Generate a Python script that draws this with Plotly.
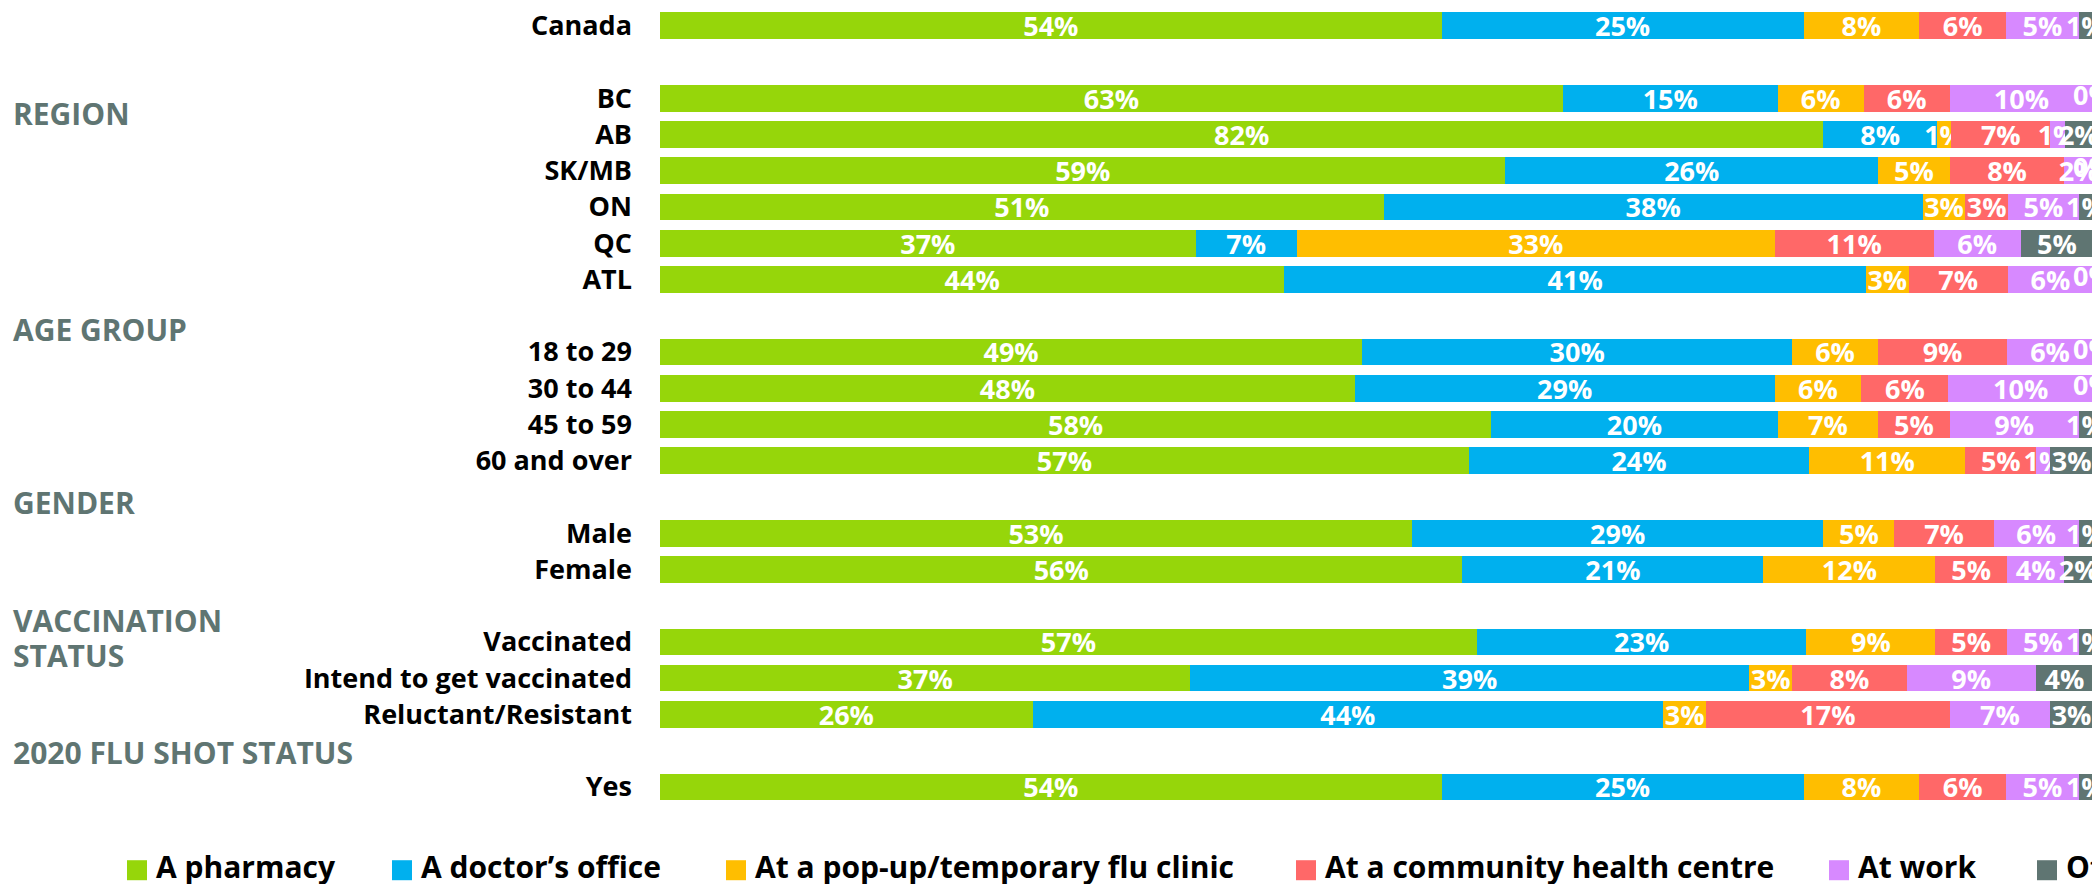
import plotly.graph_objects as go

# ---------------- data ----------------
categories = ["Canada", "BC", "AB", "SK/MB", "ON", "QC", "ATL",
              "18 to 29", "30 to 44", "45 to 59", "60 and over",
              "Male", "Female",
              "Vaccinated", "Intend to get vaccinated", "Reluctant/Resistant",
              "Yes"]
groups = ["", "REGION", "REGION", "REGION", "REGION", "REGION", "REGION",
          "AGE GROUP", "AGE GROUP", "AGE GROUP", "AGE GROUP",
          "GENDER", "GENDER",
          "VACCINATION STATUS", "VACCINATION STATUS", "VACCINATION STATUS",
          "2020 FLU SHOT STATUS"]

series_names = ["A pharmacy", "A doctor\u2019s office", "At a pop-up/temporary flu clinic",
                "At a community health centre", "At work", "Other"]
pharmacy = [54, 63, 82, 59, 51, 37, 44, 49, 48, 58, 57, 53, 56, 57, 37, 26, 54]
doctor = [25, 15, 8, 26, 38, 7, 41, 30, 29, 20, 24, 29, 21, 23, 39, 44, 25]
popup = [8, 6, 1, 5, 3, 33, 3, 6, 6, 7, 11, 5, 12, 9, 3, 3, 8]
community = [6, 6, 7, 8, 3, 11, 7, 9, 6, 5, 5, 7, 5, 5, 8, 17, 6]
work = [5, 10, 1, 2, 5, 6, 6, 6, 10, 9, 1, 6, 4, 5, 9, 7, 5]
other = [1, 0, 2, 0, 1, 5, 0, 0, 0, 1, 3, 1, 2, 1, 4, 3, 1]

series_values = [pharmacy, doctor, popup, community, work, other]
colors = ["#96D60A", "#00B0EE", "#FFBE00", "#FF6868", "#D789FF", "#5F7572"]

# ---------------- layout geometry ----------------
OFF = 8                      # page body margin
W, H = 2100, 884
ML, MR = 652, 15
PB = 796.8                   # plot bottom in figure px (top = 0)
MT, MB = 0, H - PB
PW, PH = W - ML - MR, PB

def px_x(px):                # screen px -> paper
    return (px - OFF - ML) / PW

def px_y(py):
    return (PB - (py - OFF)) / PH

# slot positions: a blank slot between groups
slots = []
s = -1
prev = None
for g in groups:
    s += 1
    if prev is not None and g != prev:
        s += 1
    slots.append(s)
    prev = g

FONT = "'Open Sans', 'Liberation Sans', Arial, sans-serif"
LBL = dict(family=FONT, size=27, color="white", weight=700)

fig = go.Figure()
for name, vals, col in zip(series_names, series_values, colors):
    fig.add_trace(go.Bar(
        name=name, y=slots, x=vals, orientation="h",
        marker=dict(color=col, line=dict(width=0)),
        text=[f"{v}%" for v in vals],
        textposition="inside", insidetextanchor="middle",
        constraintext="none", textangle=0,
        insidetextfont=LBL,
        showlegend=False, cliponaxis=True,
        hovertemplate="%{text}<extra>" + name + "</extra>",
    ))

# labels of zero-width segments (plotly does not draw text on empty bars)
totals = [sum(v[i] for v in series_values) for i in range(len(categories))]
zx, zy, zt = [], [], []
for k, vals in enumerate(series_values):
    for i, v in enumerate(vals):
        if v == 0:
            before = sum(series_values[j][i] for j in range(k))
            zx.append(100.0 * before / totals[i])
            zy.append(slots[i])
            zt.append(f"{v}%")
fig.add_trace(go.Scatter(x=zx, y=zy, text=zt, mode="text",
                         textposition="middle center", textfont=LBL,
                         cliponaxis=True, showlegend=False, hoverinfo="skip"))

# section headers
header_pos = [("REGION", 2.43), ("AGE GROUP", 8.37), ("GENDER", 13.15),
              ("VACCINATION", 16.42), ("STATUS", 17.38), ("2020 FLU SHOT STATUS", 20.04)]
annotations = []
for txt, yv in header_pos:
    annotations.append(dict(
        text=txt, xref="paper", yref="y", x=px_x(11), y=yv,
        xanchor="left", yanchor="middle", showarrow=False,
        font=dict(family=FONT, size=30, color="#5F7572", weight=700)))

# legend (manual, to reproduce the clipped right edge)
leg_sq_x = [127, 392, 726, 1296, 1829, 2037]
shapes = []
for name, col, x0 in zip(series_names, colors, leg_sq_x):
    shapes.append(dict(type="rect", xref="paper", yref="paper",
                       x0=px_x(x0), x1=px_x(x0 + 20), y0=px_y(880), y1=px_y(860),
                       fillcolor=col, line=dict(width=0)))
    annotations.append(dict(
        text=name, xref="paper", yref="paper", x=px_x(x0 + 27), y=px_y(866),
        xanchor="left", yanchor="middle", showarrow=False,
        font=dict(family=FONT, size=30, color="black", weight=700)))

fig.update_layout(
    width=W, height=H,
    margin=dict(l=ML, r=MR, t=MT, b=MB, pad=0, autoexpand=False),
    barmode="stack", barnorm="percent", bargap=0.263,
    plot_bgcolor="white", paper_bgcolor="white",
    xaxis=dict(range=[0, 100], visible=False, fixedrange=True),
    yaxis=dict(range=[21.5, -0.488], tickmode="array",
               tickvals=slots, ticktext=categories, showgrid=False,
               zeroline=False, showline=False, ticks="",
               ticklabelstandoff=27, ticklabeloverflow="allow",
               tickfont=dict(family=FONT, size=27, color="black", weight=700)),
    annotations=annotations, shapes=shapes,
    showlegend=False,
)

fig.write_html("out.html")
